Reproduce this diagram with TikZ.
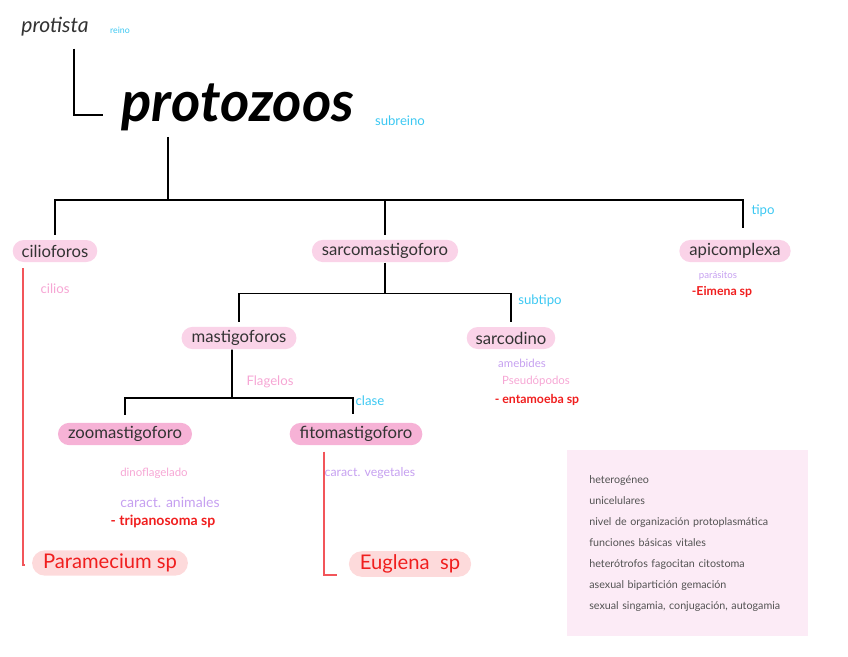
\documentclass[tikz,border=0pt]{standalone}
\usepackage{fontspec}
\setmainfont{Lato}
\usetikzlibrary{positioning,shapes.misc}
\definecolor{PillPink}{HTML}{FAD3E8}
\definecolor{PillDeep}{HTML}{F6B2D6}
\definecolor{PillRed}{HTML}{FDDADB}
\definecolor{InkGray}{HTML}{333333}
\definecolor{TagCyan}{HTML}{3CC8F2}
\definecolor{NotePink}{HTML}{F6A6D4}
\definecolor{NoteLilac}{HTML}{C6A0F0}
\definecolor{NoteRed}{HTML}{F01E1E}
\definecolor{LineRed}{HTML}{F2555A}
\definecolor{BoxPink}{HTML}{FCEBF6}

\tikzset{
  pill/.style={rounded rectangle, fill=PillPink, text=InkGray, inner xsep=4pt, inner ysep=2pt,
    minimum height=0.44cm, font=\fontsize{9.5}{11}\selectfont},
  deeppill/.style={pill, fill=PillDeep},
  redpill/.style={pill, fill=PillRed, text=NoteRed, font=\fontsize{11.5}{14}\selectfont},
  tag/.style={text=TagCyan, inner sep=1pt, font=\fontsize{7.5}{8}\selectfont},
  note/.style={text=NotePink, inner sep=1pt, font=\fontsize{6.5}{7}\selectfont},
  lilac/.style={note, text=NoteLilac},
  example/.style={note, text=NoteRed, font=\bfseries\fontsize{7}{8}\selectfont},
  branch/.style={line width=1pt, black},
  redbranch/.style={line width=1pt, LineRed},
}

\begin{document}
\begin{tikzpicture}[x=0.02cm,y=-0.02cm]
  \useasboundingbox (0,0) rectangle (848,656);

  % reino / subreino
  \node[text=InkGray, font=\itshape\fontsize{12}{14}\selectfont] (protista) at (55,27) {protista};
  \node[tag, font=\fontsize{5}{6}\selectfont] (reino) at (120,30) {reino};
  \node[font=\bfseries\itshape\fontsize{32}{34}\selectfont] (protozoos) at (238,107) {protozoos};
  \node[tag] (subreino) at (400,121) {subreino};
  \draw[branch] ([xshift=0.38cm,yshift=-0.12cm]protista.south) |- ([xshift=-0.24cm,yshift=-0.16cm]protozoos.west);

  % tipos
  \node[pill] (cilio) at (55,251) {cilioforos};
  \node[pill] (sarcomast) at (385,251) {sarcomastigoforo};
  \node[pill] (apic) at (735,251) {apicomplexa};
  \node[tag] (tipo) at (763,211) {tipo};
  \coordinate (rootdrop) at (168,200);
  \draw[branch] (rootdrop |- protozoos.south) -- (rootdrop);
  \draw[branch] ([yshift=0.1cm]cilio.north) |- (rootdrop) -| ([xshift=0.16cm,yshift=0.24cm]apic.north);
  \draw[branch] (rootdrop -| sarcomast.north) -- ([yshift=0.1cm]sarcomast.north);

  % cilioforos
  \node[note, font=\fontsize{7.5}{8}\selectfont] (cilios) at (55,289) {cilios};
  \node[redpill] (paramecium) at (110,563) {Paramecium sp};
  \draw[redbranch] ([xshift=-0.64cm,yshift=-0.12cm]cilio.south) |- ([xshift=-0.14cm,yshift=-0.04cm]paramecium.west);

  % apicomplexa
  \node[lilac, font=\fontsize{5.5}{6}\selectfont] (parasitos) at (718,276) {parásitos};
  \node[example] (eimeria) at (722,292) {-Eimena sp};

  % subtipos
  \node[pill] (mastigo) at (239,338) {mastigoforos};
  \node[pill] (sarcodino) at (511,338) {sarcodino};
  \node[tag] (subtipo) at (540,301) {subtipo};
  \draw[branch] (sarcomast.south) -- ++(0,31) coordinate (subdrop);
  \draw[branch] ([yshift=0.1cm]mastigo.north) |- (subdrop) -| ([yshift=0.1cm]sarcodino.north);

  % sarcodino
  \node[lilac] (amebides) at (522,363) {amebides};
  \node[note] (pseudo) at (536,381) {Pseudópodos};
  \node[example] (entamoeba) at (537,400) {- entamoeba sp};

  % clases
  \node[deeppill] (zoomast) at (125,434) {zoomastigoforo};
  \node[deeppill] (fitomast) at (356,434) {fitomastigoforo};
  \node[note, font=\fontsize{7.5}{8}\selectfont] (flagelos) at (270,382) {Flagelos};
  \node[tag] (clase) at (370,401) {clase};
  \coordinate (classdrop) at (232,398);
  \draw[branch] ([xshift=-0.14cm]mastigo.south) -- (classdrop);
  \draw[branch] ([yshift=0.16cm]zoomast.north) |- (classdrop) -| ([xshift=-0.06cm,yshift=0.16cm]fitomast.north);

  % zoomastigoforo
  \node[note] (dino) at (154,473) {dinoflagelado};
  \node[lilac, font=\fontsize{8}{9}\selectfont] (animales) at (170,502) {caract. animales};
  \node[example, font=\bfseries\fontsize{8}{9}\selectfont] (tripano) at (163,521) {- tripanosoma sp};

  % fitomastigoforo
  \node[lilac, font=\fontsize{7}{8}\selectfont] (vegetales) at (370,473) {caract. vegetales};
  \node[redpill] (euglena) at (410,564) {Euglena \ sp};
  \draw[redbranch] ([xshift=-0.64cm,yshift=-0.12cm]fitomast.south) |- ([xshift=-0.24cm,yshift=-0.22cm]euglena.west);

  % caracteristicas
  \node[fill=BoxPink, anchor=north west, text=InkGray!85, inner xsep=0.44cm, inner ysep=0cm,
        text width=3.94cm, minimum height=3.72cm, align=left,
        font=\fontsize{6.1}{11.9}\selectfont] (rasgos) at (567,450) {%
    heterogéneo\\
    unicelulares\\
    nivel de organización protoplasmática\\
    funciones básicas vitales\\
    heterótrofos fagocitan citostoma\\
    asexual bipartición gemación\\
    sexual singamia, conjugación, autogamia};
\end{tikzpicture}
\end{document}
